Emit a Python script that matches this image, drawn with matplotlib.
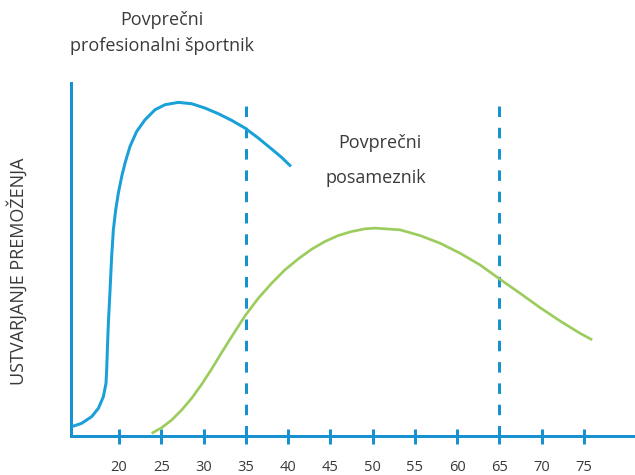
import matplotlib
matplotlib.use("Agg")
import matplotlib.pyplot as plt

# Data
age_ticks = [20, 25, 30, 35, 40, 45, 50, 55, 60, 65, 70, 75]
tick_labels = ["20", "25", "30", "35", "40", "45", "50", "55", "60", "65", "70", "75"]

pro_age = [14.40, 15.58, 16.77, 17.56, 18.15, 18.46, 18.54, 18.62, 18.74, 18.94,
           19.13, 19.33, 19.61, 19.92, 20.32, 20.71, 21.30, 22.09, 23.08, 24.26,
           25.44, 27.02, 28.59, 30.17, 31.75, 33.33, 34.90, 36.48, 38.06, 39.24, 40.34]
pro_wealth = [2.64, 3.59, 5.48, 7.84, 11.14, 14.92, 18.70, 24.36, 31.92, 41.36,
              50.80, 58.36, 64.02, 68.74, 73.46, 77.24, 81.96, 86.21, 89.52, 92.35,
              93.77, 94.43, 94.05, 92.82, 91.22, 89.33, 87.16, 84.32, 81.21, 78.85, 76.30]

avg_age = [23.86, 25.05, 26.23, 27.41, 28.59, 29.78, 30.96, 32.14, 33.33, 34.90,
           36.48, 38.06, 39.63, 41.21, 42.79, 44.36, 45.94, 47.52, 49.10, 50.28,
           51.46, 53.23, 55.60, 57.97, 60.33, 62.70, 65.06, 67.43, 69.80, 72.16,
           74.53, 75.98]
avg_wealth = [0.76, 2.36, 4.53, 7.37, 10.67, 14.64, 18.98, 23.61, 28.14, 33.99,
              39.00, 43.25, 47.03, 50.14, 52.88, 55.05, 56.75, 57.88, 58.64, 58.83,
              58.64, 58.36, 56.75, 54.58, 51.75, 48.44, 44.38, 40.42, 36.35, 32.58,
              29.08, 27.20]

marker_ages = [35, 65]
marker_top = [94.3, 95.2]

ylabel = "USTVARJANJE PREMOŽENJA"
label_pro = ["Povprečni", "profesionalni športnik"]
label_avg = ["Povprečni", "posameznik"]

BLUE = "#1aa0d8"
AXBLUE = "#1592cf"
GREEN = "#9ccc5e"
TXT = "#3a3a3a"

plt.rcParams['font.family'] = ['Open Sans', 'DejaVu Sans']

W, H = 635, 475
fig = plt.figure(figsize=(W / 100, H / 100), dpi=100)
left_px, right_px, top_px, bot_px = 71, 633, 82.7, 436
ax = fig.add_axes([left_px / W, 1 - bot_px / H, (right_px - left_px) / W, (bot_px - top_px) / H])
ax.set_xlim(14.32, 80.8)
ax.set_ylim(0, 100)

lw_px = 3.0
lw = lw_px * 72 / 100

ax.plot(pro_age, pro_wealth, color=BLUE, lw=lw, solid_capstyle='butt',
        solid_joinstyle='round', zorder=3)
ax.plot(avg_age, avg_wealth, color=GREEN, lw=lw * 0.9, solid_capstyle='butt',
        solid_joinstyle='round', zorder=3)

for xa, yt in zip(marker_ages, marker_top):
    ax.plot([xa, xa], [0, yt], color=AXBLUE, lw=lw, dashes=(3.5, 3.6), zorder=2)

for s in ['top', 'right']:
    ax.spines[s].set_visible(False)
for s in ['left', 'bottom']:
    ax.spines[s].set_color(AXBLUE)
    ax.spines[s].set_linewidth(lw)

ax.set_yticks([])
ax.set_xticks(age_ticks)
ax.set_xticklabels(tick_labels)
ax.tick_params(axis='x', direction='inout', length=15 * 72 / 100, width=lw,
               color=AXBLUE, labelsize=10.5, labelcolor=TXT, pad=12)

fig.text(17 / W, 1 - 271 / H, ylabel, rotation=90, ha='center', va='center',
         fontsize=13, color=TXT)

fig.text(162 / W, 1 - 20 / H, label_pro[0], ha='center', va='center', fontsize=13, color=TXT)
fig.text(162 / W, 1 - 46 / H, label_pro[1], ha='center', va='center', fontsize=13, color=TXT)
fig.text(380 / W, 1 - 143 / H, label_avg[0], ha='center', va='center', fontsize=13, color=TXT)
fig.text(376 / W, 1 - 178 / H, label_avg[1], ha='center', va='center', fontsize=13, color=TXT)

fig.savefig("out.png", dpi=100)
